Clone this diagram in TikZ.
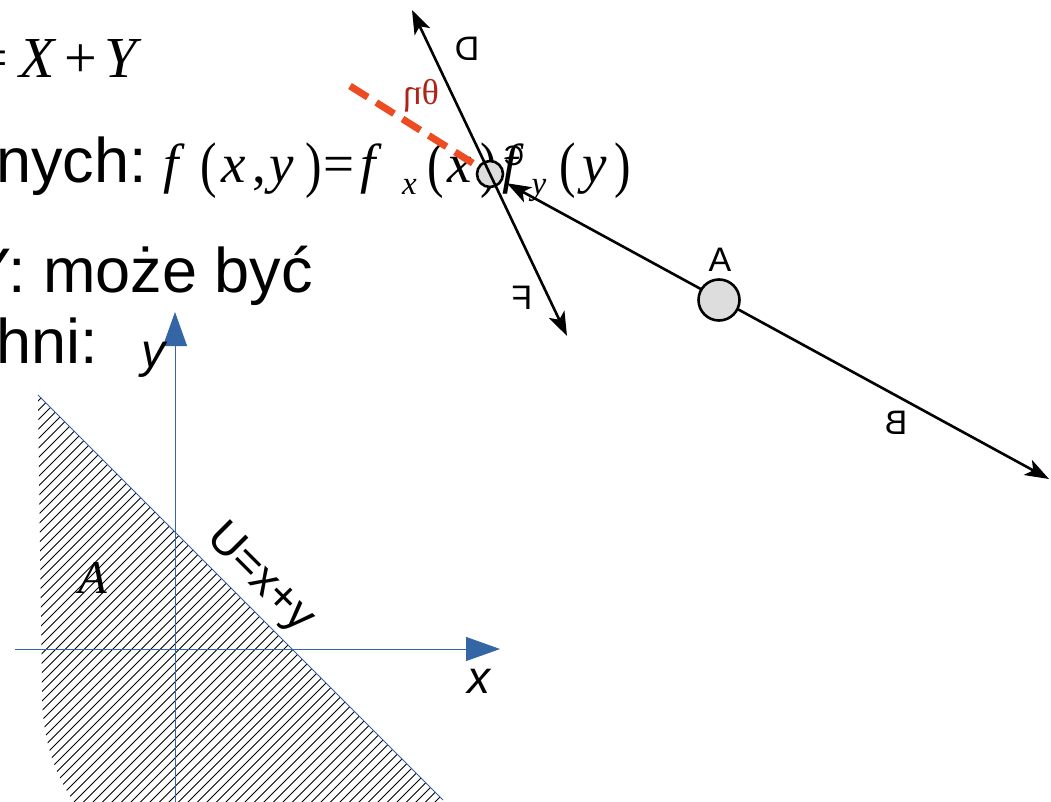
\documentclass[tikz,border=0pt]{standalone}
\usepackage{fontspec}
\setmainfont{Liberation Serif}
\setsansfont{Liberation Sans}
\usetikzlibrary{arrows.meta,positioning}
\definecolor{AxisBlue}{RGB}{52,101,164}
\definecolor{AngleRed}{RGB}{238,75,35}
\definecolor{LabelRed}{RGB}{175,35,25}
\definecolor{BallGray}{RGB}{221,221,221}
\newcommand{\slidefont}{\sffamily\fontsize{63}{75}\selectfont}
\newcommand{\formulafont}{\rmfamily\fontsize{55}{66}\selectfont}
\newcommand{\subfont}{\rmfamily\itshape\fontsize{33}{40}\selectfont}
\newcommand{\sk}[1]{\hspace{#1pt}}
\newcommand{\sub}[1]{\raisebox{-12pt}{\subfont #1}}
\newcommand{\tallp}[1]{\raisebox{-3pt}{\scalebox{0.9}[1.12]{#1}}}
\tikzset{
  slide/.style={font=\slidefont,inner sep=0pt},
  formula/.style={font=\formulafont,inner sep=0pt},
  mirror/.style={font=\sffamily\fontsize{34}{40}\selectfont,inner sep=0pt},
  ball/.style={circle,draw,line width=2.6pt,fill=BallGray,inner sep=0pt},
  force/.style={line width=2.6pt,{Stealth[length=24pt,width=17pt,inset=6pt]}-{Stealth[length=24pt,width=17pt,inset=6pt]}},
  axis/.style={AxisBlue,line width=1pt,-{Triangle[length=34pt,width=24pt]}},
  hatch/.style={line width=0.8pt,black}
}
\begin{document}
\begin{tikzpicture}[x=1pt,y=-1pt]
  \useasboundingbox (0,0) rectangle (1051,802);
  \clip (0,0) rectangle (1051,802);
  % slide text
  \node[formula,font=\rmfamily\fontsize{58}{68}\selectfont,anchor=base east] (sum) at (142,78)
    {=\sk{11}\textit{X}\sk{8}+\sk{7}\textit{Y}};
  \node[slide,anchor=base west] (nych) at (-4,183) {nych:};
  \node[formula,anchor=base west] (fxy) at (163,183)
    {\textit{f}\sk{16}\tallp{(}\sk{4}\textit{x}\sk{7},\sk{3}\textit{y}\sk{12}\tallp{)}\sk{1}=\sk{6}\textit{f}\sk{20}\sub{x}\sk{11}\tallp{(}\sk{3}\textit{x}\sk{9}\tallp{)}\sk{5}\textit{f}\sk{8}\sub{y}\sk{13}\tallp{(}\sk{7}\textit{y}\sk{7}\tallp{)}};
  \node[slide,anchor=base east] (moze) at (313,292) {Y: może być};
  \node[slide,anchor=base west] (hni) at (-4,363) {hni:};
  % hatched region A
  \coordinate (Utop) at (38,395);
  \coordinate (Ubot) at (443,800);
  \begin{scope}
    \clip (Utop) -- (Ubot) -- (443,802) -- (74,802)
      .. controls (52,770) and (42,735) .. (42,690) -- cycle;
    \foreach \c in {420,429.5,...,1260}
      \draw[hatch] (\c-810,810) -- (\c-380,380);
  \end{scope}
  \draw[AxisBlue,line width=1pt] (Utop) -- (Ubot);
  % axes
  \coordinate (Yfoot) at (175,802);
  \coordinate (Ytip) at (175,312);
  \coordinate (Xfoot) at (15,649);
  \coordinate (Xtip) at (500,649);
  \draw[axis] (Yfoot) -- (Ytip);
  \draw[axis] (Xfoot) -- (Xtip);
  \node[font=\sffamily\itshape\fontsize{48}{56}\selectfont,anchor=base west,inner sep=0pt]
    (ylab) at (141,367) {y};
  \node[font=\sffamily\itshape\fontsize{46}{54}\selectfont,anchor=base west,inner sep=0pt]
    (xlab) at (467,693) {x};
  \node[font=\rmfamily\itshape\fontsize{47}{56}\selectfont,anchor=base west,inner sep=0pt]
    (Alab) at (78,593) {A};
  \node[font=\sffamily\fontsize{46}{54}\selectfont,rotate=-45,inner sep=0pt]
    (ulab) at (260,579) {U=x+y};
  % forces at the ball
  \coordinate (Pc) at (490,174);
  \coordinate (Rstart) at (350,86);
  \draw[AngleRed,line width=7pt,dash pattern=on 21pt off 10pt] (Rstart) -- (Pc);
  \node[ball,minimum size=26pt] (P) at (Pc) {};
  \coordinate (Dtip) at (412,10);
  \coordinate (Ftip) at (567,336);
  \coordinate (Btip) at (1049,479);
  \draw[force] (Dtip) -- (Ftip);
  \draw[force,shorten <=5pt] (P) -- (Btip);
  \node[ball,minimum size=41pt] (A) at (719,300) {};
  \node[mirror] (Dlab) at (467,49) {\reflectbox{D}};
  \node[mirror] (Flab) at (522,298) {\reflectbox{F}};
  \node[mirror] (Aname) at (720,260) {A};
  \node[mirror] (Blab) at (896,423) {\reflectbox{B}};
  \node[font=\sffamily\fontsize{28}{32}\selectfont,inner sep=0pt]
    (Clab) at (514,156) {\reflectbox{C}};
  \node[font=\rmfamily\fontsize{36}{42}\selectfont,text=LabelRed,inner sep=0pt]
    (theta) at (421,96) {\reflectbox{θη}};
\end{tikzpicture}
\end{document}
